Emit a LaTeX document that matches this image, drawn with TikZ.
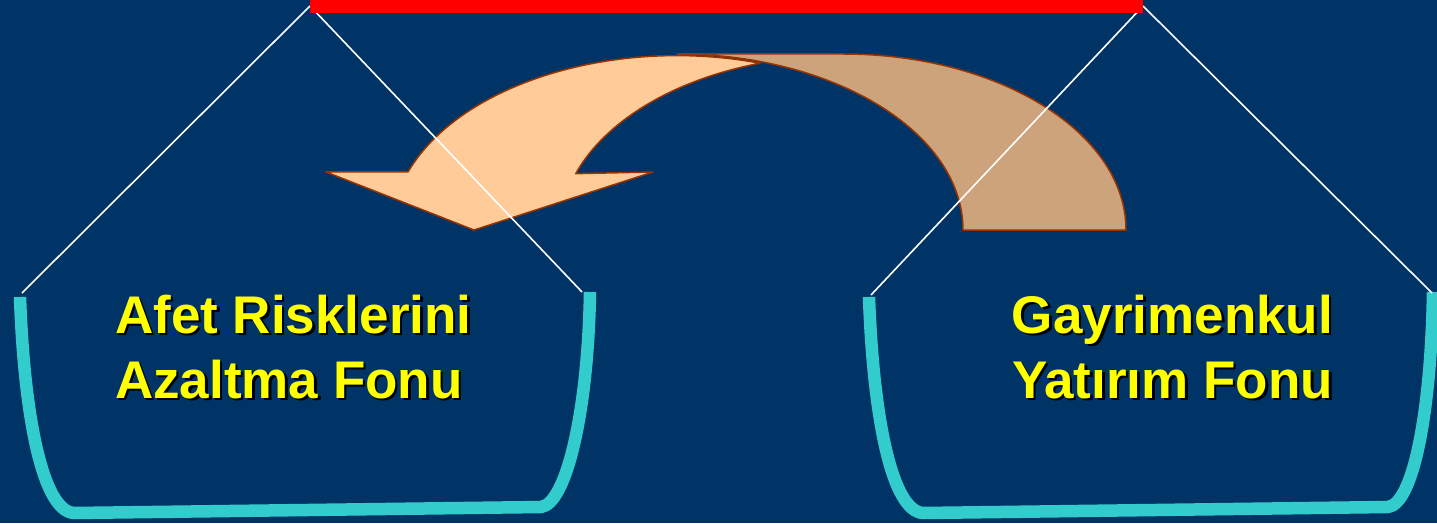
\documentclass[tikz,border=0pt]{standalone}
\usepackage{fontspec}
\setmainfont{Liberation Sans}
\definecolor{bg}{RGB}{0,51,102}
\definecolor{bucketc}{RGB}{51,204,204}
\definecolor{arrline}{RGB}{153,51,0}
\definecolor{arrlight}{RGB}{255,204,153}
\definecolor{arrdark}{RGB}{204,163,122}
\definecolor{txt}{RGB}{255,255,0}
\tikzset{
  bucket/.style={draw=bucketc, line width=12.5pt, line cap=butt, line join=round},
  wline/.style={draw=white, line width=1.6pt},
  arrlightpart/.style={fill=arrlight, draw=arrline, line width=1.5pt, line join=round},
  arrdarkpart/.style={fill=arrdark, draw=arrline, line width=1.5pt, line join=round},
  lbl/.style={inner sep=0pt, text=txt, font=\bfseries\fontsize{53}{64}\selectfont},
  lblshadow/.style={inner sep=0pt, text=black, font=\bfseries\fontsize{53}{64}\selectfont},
}
\begin{document}
\begin{tikzpicture}[x=1pt,y=1pt]
\fill[bg] (0,0) rectangle (1437,523);
\useasboundingbox (0,0) rectangle (1437,523);

% curved arrow: dark back part
\path[arrdarkpart] (963,293) -- (1126,293)
  arc[start angle=0, end angle=90, x radius=283, y radius=176]
  -- (677,469)
  arc[start angle=90, end angle=0, x radius=286, y radius=176] -- cycle;
% light front part with head
\path[arrlightpart] (408,351)
  arc[start angle=160.2, end angle=73.1, x radius=286, y radius=176]
  arc[start angle=107, end angle=160.8, x radius=283, y radius=176]
  -- (653,351) -- (474,293) -- (326,351) -- cycle;

% buckets
\draw[bucket] (20,226) .. controls (24,110) and (42,12) .. (74,10)
  -- (541,16) .. controls (566,19) and (588,110) .. (590,231);
\draw[bucket] (869,226) .. controls (873,110) and (891,12) .. (923,10)
  -- (1388,16) .. controls (1413,19) and (1431,110) .. (1433,231);

% white lines
\coordinate (apexL) at (310,517);
\coordinate (apexR) at (1143,517);
\coordinate (l1) at (22,230);
\coordinate (l2) at (582,231);
\coordinate (r1) at (871,228);
\coordinate (r2) at (1432,230);
\draw[wline] (apexL) -- (l1);
\draw[wline] (apexL) -- (l2);
\draw[wline] (apexR) -- (r1);
\draw[wline] (apexR) -- (r2);

% red bar
\fill[red] (310,510) rectangle (1143,523);

% labels
\node[lblshadow, anchor=base west] (s1a) at (117.5,187.5) {Afet Risklerini};
\node[lbl, anchor=base west] (t1a) at (115,190) {Afet Risklerini};
\node[lblshadow, anchor=base west] (s1b) at (117.5,122.5) {Azaltma Fonu};
\node[lbl, anchor=base west] (t1b) at (115,125) {Azaltma Fonu};
\node[lblshadow, anchor=base] (s2a) at (1175,187.5) {Gayrimenkul};
\node[lbl, anchor=base] (t2a) at (1172.5,190) {Gayrimenkul};
\node[lblshadow, anchor=base] (s2b) at (1175,122.5) {Yatırım Fonu};
\node[lbl, anchor=base] (t2b) at (1172.5,125) {Yatırım Fonu};
\end{tikzpicture}
\end{document}
